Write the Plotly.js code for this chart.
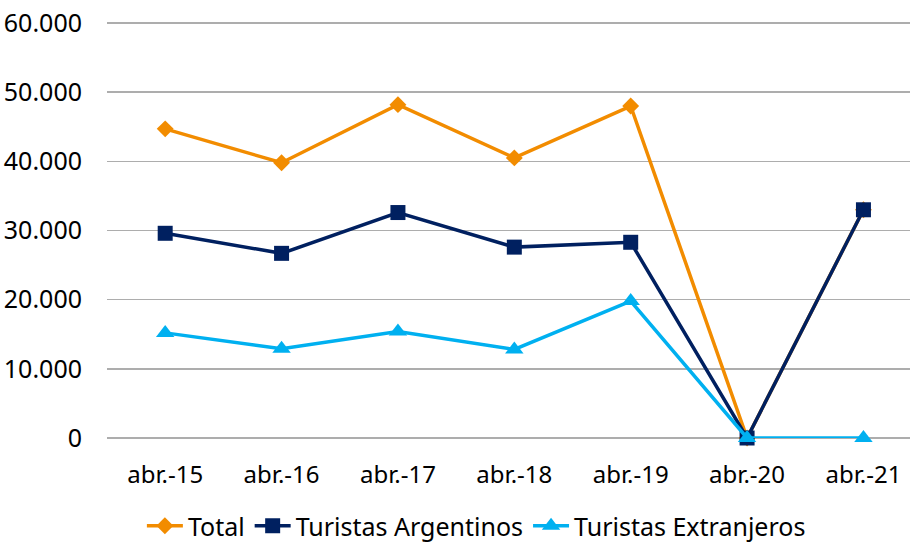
<!DOCTYPE html>
<html>
<head>
<meta charset="utf-8">
<script src="https://cdn.plot.ly/plotly-3.0.1.min.js"></script>
<style>html,body{margin:0;padding:0;background:#fff;}#chart{width:910px;height:549px;}</style>
</head>
<body>
<div id="chart"></div>
<script>
const categories = ["abr.-15","abr.-16","abr.-17","abr.-18","abr.-19","abr.-20","abr.-21"];
const total = [44700, 39800, 48200, 40500, 48000, 0, 33000];
const argentinos = [29600, 26700, 32600, 27600, 28300, 0, 33000];
const extranjeros = [15200, 12900, 15400, 12800, 19800, 0, 0];
const yTicks = [0, 10000, 20000, 30000, 40000, 50000, 60000];

const font = "Noto Sans, Open Sans, sans-serif";
const traces = [
  {x: categories, y: total, name: "Total", type: "scatter", mode: "lines+markers", cliponaxis: false,
   line: {color: "#F28C00", width: 3.5}, marker: {symbol: "diamond", size: 13, color: "#F28C00"}},
  {x: categories, y: argentinos, name: "Turistas Argentinos", type: "scatter", mode: "lines+markers", cliponaxis: false,
   line: {color: "#002060", width: 3.5}, marker: {symbol: "square", size: 15, color: "#002060"}},
  {x: categories, y: extranjeros, name: "Turistas Extranjeros", type: "scatter", mode: "lines+markers", cliponaxis: false,
   line: {color: "#00B0F0", width: 3.5}, marker: {symbol: "triangle-up", size: 16, color: "#00B0F0"}}
];
const layout = {
  width: 910, height: 549,
  margin: {l: 107, r: 0, t: 22, b: 111, autoexpand: false},
  paper_bgcolor: "#fff", plot_bgcolor: "#fff",
  separators: ",.",
  font: {family: font, size: 24, color: "#000"},
  showlegend: true,
  legend: {orientation: "h", x: 0.46, xanchor: "center", yref: "container", y: -0.014, yanchor: "bottom",
           font: {family: font, size: 25, color: "#000"}, itemwidth: 36, traceorder: "normal"},
  xaxis: {type: "category", range: [-0.5, 6.4], showgrid: false, showline: false, zeroline: false, automargin: false,
          ticks: "", ticklabelstandoff: 20, tickfont: {family: font, size: 24}},
  yaxis: {range: [0, 60150], tickvals: yTicks, tickformat: ",d", showgrid: true, automargin: false,
          gridcolor: "#ADADAD", gridwidth: 1.5, zeroline: true, zerolinecolor: "#ADADAD", zerolinewidth: 1.5,
          showline: false, ticks: "", ticklabelstandoff: 24, tickfont: {family: font, size: 25}}
};
Plotly.newPlot("chart", traces, layout, {displayModeBar: false, staticPlot: true});
</script>
</body>
</html>
